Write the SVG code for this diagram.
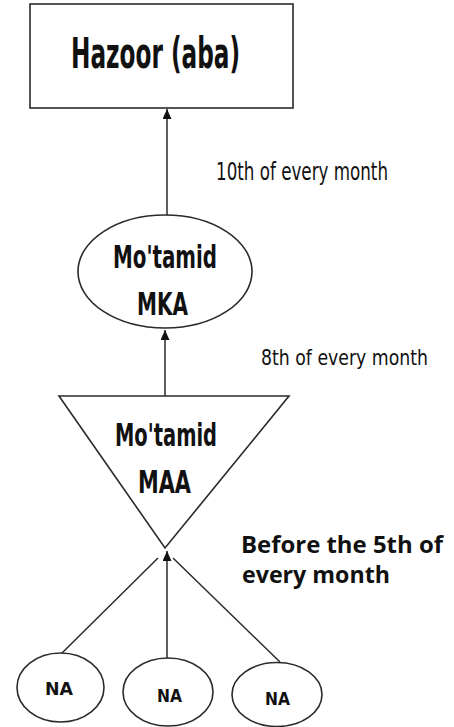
<svg xmlns="http://www.w3.org/2000/svg" width="454" height="727" viewBox="0 0 454 727">
<style>
.shape{fill:#fff;stroke:#2a2a2a;stroke-width:1.6}
.line{stroke:#2a2a2a;stroke-width:1.5;fill:none}
.cond{font-family:"Liberation Sans Narrow","DejaVu Sans Condensed","DejaVu Sans",sans-serif;font-stretch:condensed;fill:#111}
.node{font-weight:bold}
.lbl{font-weight:normal}
.bold{font-family:"Open Sans","DejaVu Sans",sans-serif;font-weight:bold;fill:#111}
</style>
<defs>
<marker id="arr" markerUnits="userSpaceOnUse" markerWidth="10" markerHeight="11" refX="10" refY="4.5" orient="auto">
<path d="M0,0 L10,4.5 L0,9 Z" fill="#111"/>
</marker>
</defs>
<rect width="454" height="727" fill="#fff"/>
<g id="connectors">
<line class="line" x1="167" y1="215" x2="167" y2="109" marker-end="url(#arr)"/>
<line class="line" x1="165" y1="396" x2="165" y2="330" marker-end="url(#arr)"/>
<line class="line" x1="167" y1="658" x2="167" y2="551" marker-end="url(#arr)"/>
<line class="line" x1="62" y1="653" x2="158" y2="558"/>
<line class="line" x1="280" y1="662" x2="173" y2="558"/>
</g>
<g id="hazoor">
<rect class="shape" x="30" y="4" width="263" height="104" stroke-width="2"/>
<text class="cond node" x="155.5" y="68" font-size="43" text-anchor="middle" textLength="169" lengthAdjust="spacingAndGlyphs">Hazoor (aba)</text>
</g>
<g id="mka">
<ellipse class="shape" cx="165" cy="271.5" rx="87" ry="56.5"/>
<text class="cond node" x="165" y="268" font-size="32" text-anchor="middle" textLength="104" lengthAdjust="spacingAndGlyphs">Mo'tamid</text>
<text class="cond node" x="162.5" y="315" font-size="32" text-anchor="middle" textLength="51" lengthAdjust="spacingAndGlyphs">MKA</text>
</g>
<g id="maa">
<polygon class="shape" points="59,396 289,396 165,548"/>
<text class="cond node" x="166" y="446" font-size="32" text-anchor="middle" textLength="102" lengthAdjust="spacingAndGlyphs">Mo'tamid</text>
<text class="cond node" x="164.5" y="493" font-size="32" text-anchor="middle" textLength="53" lengthAdjust="spacingAndGlyphs">MAA</text>
</g>
<g id="na1">
<ellipse class="shape" cx="60.5" cy="687.5" rx="43.5" ry="34.5"/>
<text class="cond node" x="59" y="695" font-size="18" text-anchor="middle" textLength="28" lengthAdjust="spacingAndGlyphs">NA</text>
</g>
<g id="na2">
<ellipse class="shape" cx="168" cy="692" rx="45" ry="34"/>
<text class="cond node" x="169.5" y="702" font-size="18" text-anchor="middle" textLength="25" lengthAdjust="spacingAndGlyphs">NA</text>
</g>
<g id="na3">
<ellipse class="shape" cx="277" cy="694.5" rx="45" ry="32"/>
<text class="cond node" x="277.5" y="705" font-size="18" text-anchor="middle" textLength="25" lengthAdjust="spacingAndGlyphs">NA</text>
</g>
<g id="labels">
<text class="cond lbl" x="216" y="180" font-size="25" textLength="172" lengthAdjust="spacingAndGlyphs">10th of every month</text>
<text class="cond lbl" x="261" y="365" font-size="21" textLength="167" lengthAdjust="spacingAndGlyphs">8th of every month</text>
<text class="bold" x="241" y="553" font-size="24" textLength="202" lengthAdjust="spacingAndGlyphs">Before the 5th of</text>
<text class="bold" x="242" y="583" font-size="24" textLength="148" lengthAdjust="spacingAndGlyphs">every month</text>
</g>
</svg>
